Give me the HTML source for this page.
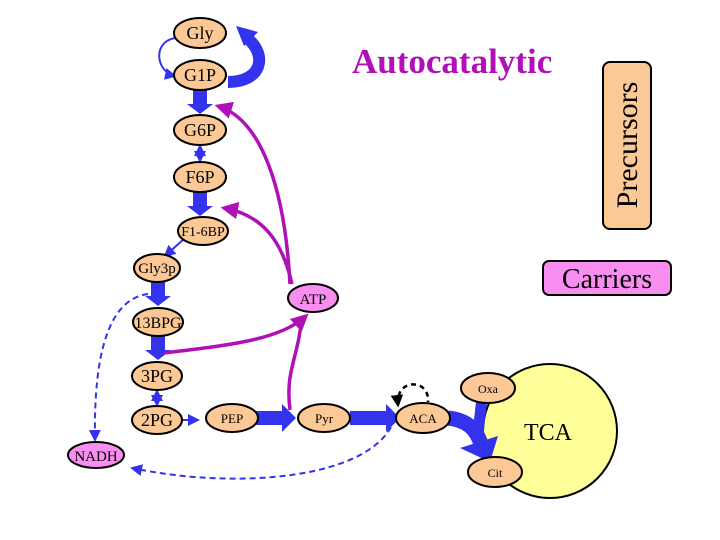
<!DOCTYPE html>
<html><head><meta charset="utf-8"><style>
body{margin:0;background:#fff}
svg{display:block}
text{font-family:"Liberation Serif",serif}
</style></head><body>
<svg width="720" height="540" viewBox="0 0 720 540" xmlns="http://www.w3.org/2000/svg">
<defs>
<marker id="mb" markerWidth="6" markerHeight="6" refX="5" refY="3" orient="auto" markerUnits="strokeWidth"><path d="M0,0L6,3L0,6z" fill="#3333ee"/></marker>
<marker id="mbs" markerWidth="6" markerHeight="6" refX="5" refY="3" orient="auto-start-reverse" markerUnits="strokeWidth"><path d="M0,0L6,3L0,6z" fill="#3333ee"/></marker>
<marker id="mm" markerWidth="5" markerHeight="5" refX="4" refY="2.5" orient="auto" markerUnits="strokeWidth"><path d="M0,0L5,2.5L0,5z" fill="#b010b8"/></marker>
<marker id="mk" markerWidth="5" markerHeight="5" refX="4" refY="2.5" orient="auto-start-reverse" markerUnits="strokeWidth"><path d="M0,0L5,2.5L0,5z" fill="#000"/></marker>
</defs>
<text x="352" y="73" font-size="35" font-weight="bold" fill="#b010b8">Autocatalytic</text>
<rect x="603" y="62" width="48" height="167" rx="7" fill="#fcc896" stroke="#000" stroke-width="2"/>
<text transform="translate(637,145) rotate(-90)" font-size="30" text-anchor="middle">Precursors</text>
<rect x="543" y="261" width="128" height="34" rx="6" fill="#f88ef0" stroke="#000" stroke-width="2"/>
<text x="607" y="288" font-size="28" text-anchor="middle">Carriers</text>
<circle cx="550" cy="431" r="67" fill="#ffff99" stroke="#000" stroke-width="2"/>
<text x="548" y="440" font-size="24" text-anchor="middle">TCA</text>
<!-- blue flows -->
<path d="M193,88h14v16h6l-13,10l-13,-10h6z" fill="#3333ee"/>
<path d="M193,190h14v16h6l-13,10l-13,-10h6z" fill="#3333ee"/>
<path d="M151,280h14v16h6l-13,10l-13,-10h6z" fill="#3333ee"/>
<path d="M151,336h14v14h6l-13,10l-13,-10h6z" fill="#3333ee"/>
<path d="M248,411h34v-7l14,14l-14,14v-7h-34z" fill="#3333ee"/>
<path d="M350,411h36v-7l14,14l-14,14v-7h-36z" fill="#3333ee"/>
<path d="M228,82 C262,82 268,55 247,38" stroke="#3333ee" stroke-width="12" fill="none"/>
<path d="M236,26 L258,32 L244,46z" fill="#3333ee"/>
<path d="M448,418 C466,420 476,428 481,444" stroke="#3333ee" stroke-width="15" fill="none"/>
<path d="M460,448 L498,436 L490,462z" fill="#3333ee"/>
<path d="M482,398 L477,442" stroke="#3333ee" stroke-width="11"/>
<path d="M175,38 C152,42 156,72 175,76" stroke="#3333ee" stroke-width="2" fill="none" marker-end="url(#mb)"/>
<path d="M200,146 V161" stroke="#3333ee" stroke-width="2" marker-end="url(#mbs)" marker-start="url(#mbs)"/>
<path d="M185,238 L165,256" stroke="#3333ee" stroke-width="2" marker-end="url(#mb)"/>
<path d="M157,391 V405" stroke="#3333ee" stroke-width="2" marker-end="url(#mbs)" marker-start="url(#mbs)"/>
<path d="M180,420 H198" stroke="#3333ee" stroke-width="2" marker-end="url(#mb)"/>
<!-- dashed -->
<path d="M148,294 C100,300 94,380 95,440" stroke="#3333ee" stroke-width="2" stroke-dasharray="6,4" fill="none" marker-end="url(#mb)"/>
<path d="M395,418 C375,480 235,490 132,468" stroke="#3333ee" stroke-width="2" stroke-dasharray="6,4" fill="none" marker-end="url(#mb)"/>
<path d="M398,405 C395,378 430,378 428,402" stroke="#000" stroke-width="2.5" stroke-dasharray="5,4" fill="none" marker-start="url(#mk)"/>
<!-- magenta -->
<path d="M290,284 C285,190 262,120 218,106" stroke="#b010b8" stroke-width="3.5" fill="none" marker-end="url(#mm)"/>
<path d="M292,284 C282,240 262,215 224,208" stroke="#b010b8" stroke-width="3.5" fill="none" marker-end="url(#mm)"/>
<path d="M164,353 C230,345 280,340 306,316" stroke="#b010b8" stroke-width="3.5" fill="none" marker-end="url(#mm)"/>
<path d="M290,410 C285,370 298,360 302,316" stroke="#b010b8" stroke-width="3.5" fill="none"/>
<!-- nodes -->
<g stroke="#000" stroke-width="2" fill="#fcc896">
<ellipse cx="200" cy="33" rx="26" ry="15"/>
<ellipse cx="200" cy="75" rx="26" ry="15"/>
<ellipse cx="200" cy="130" rx="26" ry="15"/>
<ellipse cx="200" cy="177" rx="26" ry="15"/>
<ellipse cx="203" cy="231" rx="25" ry="14"/>
<ellipse cx="157" cy="268" rx="23" ry="14"/>
<ellipse cx="158" cy="322" rx="25" ry="14"/>
<ellipse cx="157" cy="376" rx="25" ry="14"/>
<ellipse cx="157" cy="420" rx="25" ry="14"/>
<ellipse cx="232" cy="418" rx="26" ry="14"/>
<ellipse cx="324" cy="418" rx="26" ry="14"/>
<ellipse cx="423" cy="418" rx="27" ry="15"/>
<ellipse cx="488" cy="388" rx="27" ry="15"/>
<ellipse cx="495" cy="472" rx="27" ry="15"/>
<ellipse cx="313" cy="298" rx="25" ry="14" fill="#f88ef0"/>
<ellipse cx="96" cy="455" rx="28" ry="13" fill="#f88ef0"/>
</g>
<g font-size="18" text-anchor="middle">
<text x="200" y="39">Gly</text>
<text x="200" y="81">G1P</text>
<text x="200" y="136">G6P</text>
<text x="200" y="183">F6P</text>
<text x="203" y="236" font-size="14">F1-6BP</text>
<text x="157" y="273" font-size="15">Gly3p</text>
<text x="158" y="328" font-size="16">13BPG</text>
<text x="157" y="382">3PG</text>
<text x="157" y="426">2PG</text>
<text x="232" y="423" font-size="13">PEP</text>
<text x="324" y="423" font-size="13">Pyr</text>
<text x="423" y="423" font-size="13">ACA</text>
<text x="488" y="393" font-size="12">Oxa</text>
<text x="495" y="477" font-size="12">Cit</text>
<text x="313" y="304" font-size="15">ATP</text>
<text x="96" y="461" font-size="15">NADH</text>
</g>
</svg>
</body></html>
